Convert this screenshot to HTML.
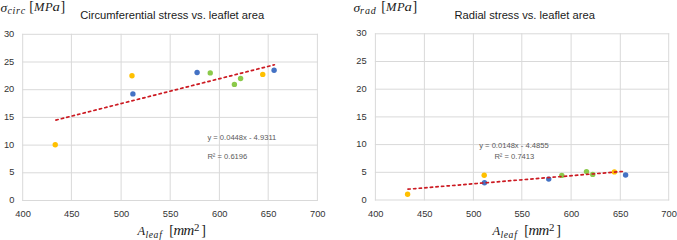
<!DOCTYPE html>
<html><head><meta charset="utf-8"><style>
html,body{margin:0;padding:0;background:#fff;width:677px;height:240px;overflow:hidden}
svg{display:block;position:absolute;left:0;top:0}
</style></head><body>
<svg width="677" height="240" viewBox="0 0 677 240">
<g stroke="#d9d9d9" stroke-width="1"><line x1="22.70" y1="33.80" x2="22.70" y2="201.00"/><line x1="71.40" y1="33.80" x2="71.40" y2="201.00"/><line x1="121.10" y1="33.80" x2="121.10" y2="201.00"/><line x1="170.20" y1="33.80" x2="170.20" y2="201.00"/><line x1="219.40" y1="33.80" x2="219.40" y2="201.00"/><line x1="268.20" y1="33.80" x2="268.20" y2="201.00"/><line x1="317.40" y1="33.80" x2="317.40" y2="201.00"/><line x1="22.20" y1="200.50" x2="317.90" y2="200.50"/><line x1="22.20" y1="172.80" x2="317.90" y2="172.80"/><line x1="22.20" y1="145.10" x2="317.90" y2="145.10"/><line x1="22.20" y1="117.40" x2="317.90" y2="117.40"/><line x1="22.20" y1="89.70" x2="317.90" y2="89.70"/><line x1="22.20" y1="62.00" x2="317.90" y2="62.00"/><line x1="22.20" y1="34.30" x2="317.90" y2="34.30"/></g><g stroke="#d9d9d9" stroke-width="1"><line x1="375.40" y1="33.30" x2="375.40" y2="200.50"/><line x1="424.40" y1="33.30" x2="424.40" y2="200.50"/><line x1="473.40" y1="33.30" x2="473.40" y2="200.50"/><line x1="521.80" y1="33.30" x2="521.80" y2="200.50"/><line x1="571.10" y1="33.30" x2="571.10" y2="200.50"/><line x1="620.30" y1="33.30" x2="620.30" y2="200.50"/><line x1="668.70" y1="33.30" x2="668.70" y2="200.50"/><line x1="374.90" y1="200.00" x2="669.20" y2="200.00"/><line x1="374.90" y1="172.30" x2="669.20" y2="172.30"/><line x1="374.90" y1="144.60" x2="669.20" y2="144.60"/><line x1="374.90" y1="116.90" x2="669.20" y2="116.90"/><line x1="374.90" y1="89.20" x2="669.20" y2="89.20"/><line x1="374.90" y1="61.50" x2="669.20" y2="61.50"/><line x1="374.90" y1="33.80" x2="669.20" y2="33.80"/></g>
<g font-family="Liberation Sans" font-size="9.3" fill="#333333"><text x="14.3" y="203.10" text-anchor="end">0</text><text x="14.3" y="175.40" text-anchor="end">5</text><text x="14.3" y="147.70" text-anchor="end">10</text><text x="14.3" y="120.00" text-anchor="end">15</text><text x="14.3" y="92.30" text-anchor="end">20</text><text x="14.3" y="64.60" text-anchor="end">25</text><text x="14.3" y="36.90" text-anchor="end">30</text><text x="23.10" y="216.8" text-anchor="middle">400</text><text x="71.80" y="216.8" text-anchor="middle">450</text><text x="121.50" y="216.8" text-anchor="middle">500</text><text x="170.60" y="216.8" text-anchor="middle">550</text><text x="219.80" y="216.8" text-anchor="middle">600</text><text x="268.60" y="216.8" text-anchor="middle">650</text><text x="317.80" y="216.8" text-anchor="middle">700</text></g><g font-family="Liberation Sans" font-size="9.3" fill="#333333"><text x="366.6" y="202.60" text-anchor="end">0</text><text x="366.6" y="174.90" text-anchor="end">5</text><text x="366.6" y="147.20" text-anchor="end">10</text><text x="366.6" y="119.50" text-anchor="end">15</text><text x="366.6" y="91.80" text-anchor="end">20</text><text x="366.6" y="64.10" text-anchor="end">25</text><text x="366.6" y="36.40" text-anchor="end">30</text><text x="375.80" y="216.8" text-anchor="middle">400</text><text x="424.80" y="216.8" text-anchor="middle">450</text><text x="473.80" y="216.8" text-anchor="middle">500</text><text x="522.20" y="216.8" text-anchor="middle">550</text><text x="571.50" y="216.8" text-anchor="middle">600</text><text x="620.70" y="216.8" text-anchor="middle">650</text><text x="669.10" y="216.8" text-anchor="middle">700</text></g>
<circle cx="55.25" cy="144.75" r="2.7" fill="#FFC000"/><circle cx="132" cy="75.75" r="2.7" fill="#FFC000"/><circle cx="132.9" cy="93.9" r="2.7" fill="#4472C4"/><circle cx="197.1" cy="72.5" r="2.7" fill="#4472C4"/><circle cx="210.25" cy="72.9" r="2.7" fill="#8BC94A"/><circle cx="234.4" cy="84.4" r="2.7" fill="#8BC94A"/><circle cx="240.6" cy="78.5" r="2.7" fill="#8BC94A"/><circle cx="262.75" cy="74.4" r="2.7" fill="#FFC000"/><circle cx="274.1" cy="70.25" r="2.7" fill="#4472C4"/><line x1="55.9" y1="120.1" x2="274.4" y2="64.8" stroke="#CC1A22" stroke-width="1.7" stroke-dasharray="2.3 3.3" stroke-linecap="round"/>
<circle cx="407.6" cy="194.2" r="2.7" fill="#FFC000"/><circle cx="484.2" cy="175.3" r="2.7" fill="#FFC000"/><circle cx="484.5" cy="182.8" r="2.7" fill="#4472C4"/><circle cx="548.75" cy="179.1" r="2.7" fill="#4472C4"/><circle cx="561.8" cy="175.4" r="2.7" fill="#8BC94A"/><circle cx="586.5" cy="171.6" r="2.7" fill="#8BC94A"/><circle cx="592.75" cy="174.4" r="2.7" fill="#8BC94A"/><circle cx="614.4" cy="171.9" r="2.7" fill="#FFC000"/><circle cx="625.6" cy="175.0" r="2.7" fill="#4472C4"/><line x1="408.0" y1="189.2" x2="624.6" y2="171.3" stroke="#CC1A22" stroke-width="1.7" stroke-dasharray="2.3 3.3" stroke-linecap="round"/>
<g font-family="Liberation Sans" font-size="11.2" fill="#1a1a1a">
<text x="80.2" y="18.9">Circumferential stress vs. leaflet area</text>
<text x="454.4" y="18.9">Radial stress vs. leaflet area</text>
</g>
<g font-family="Liberation Sans" font-size="7.6" fill="#595959">
<text x="207.4" y="139.8">y = 0.0448x - 4.9311</text>
<text x="207.4" y="159.2">R² = 0.6196</text>
<text x="479.2" y="148">y = 0.0148x - 4.4855</text>
<text x="494.4" y="158.6">R² = 0.7413</text>
</g>
<g font-family="Liberation Serif" fill="#1a1a1a"><text x="0.60" y="11.60" font-size="13.5" font-style="italic">σ</text><text x="29.30" y="11.20" font-size="14">[</text><text x="34.00" y="11.20" font-size="12.5" font-style="italic">M</text><text x="44.90" y="11.20" font-size="12.5" font-style="italic">P</text><text transform="translate(52.60,11.20) scale(1.18,1)" font-size="12.5" font-style="italic">a</text><text x="60.50" y="11.20" font-size="14">]</text><text x="7.60" y="14.40" font-size="10" font-style="italic">c</text><text x="12.50" y="14.40" font-size="10" font-style="italic">i</text><text x="15.90" y="14.40" font-size="10" font-style="italic">r</text><text x="20.70" y="14.40" font-size="10" font-style="italic">c</text><text x="353.40" y="11.60" font-size="13.5" font-style="italic">σ</text><text x="381.30" y="11.20" font-size="14">[</text><text x="386.00" y="11.20" font-size="12.5" font-style="italic">M</text><text x="396.90" y="11.20" font-size="12.5" font-style="italic">P</text><text transform="translate(404.60,11.20) scale(1.18,1)" font-size="12.5" font-style="italic">a</text><text x="412.50" y="11.20" font-size="14">]</text><text x="360.10" y="14.40" font-size="10" font-style="italic">r</text><text x="365.10" y="14.40" font-size="10" font-style="italic">a</text><text x="370.70" y="14.40" font-size="10" font-style="italic">d</text><text x="137.60" y="234.60" font-size="12.5" font-style="italic">A</text><text x="145.40" y="237.60" font-size="9.6" font-style="italic">l</text><text x="148.65" y="237.60" font-size="9.6" font-style="italic">e</text><text x="153.60" y="237.60" font-size="9.6" font-style="italic">a</text><text x="159.30" y="237.60" font-size="9.6" font-style="italic">f</text><text x="169.20" y="234.60" font-size="14">[</text><text transform="translate(173.60,234.60) scale(1.05,1)" font-size="14.2" font-style="italic">m</text><text transform="translate(183.50,234.60) scale(1.05,1)" font-size="14.2" font-style="italic">m</text><text transform="translate(194.00,231.00) scale(1.15,1)" font-size="9.5">2</text><text x="201.30" y="234.60" font-size="14">]</text><text x="492.60" y="234.60" font-size="12.5" font-style="italic">A</text><text x="500.40" y="237.60" font-size="9.6" font-style="italic">l</text><text x="503.65" y="237.60" font-size="9.6" font-style="italic">e</text><text x="508.60" y="237.60" font-size="9.6" font-style="italic">a</text><text x="514.30" y="237.60" font-size="9.6" font-style="italic">f</text><text x="524.20" y="234.60" font-size="14">[</text><text transform="translate(528.60,234.60) scale(1.05,1)" font-size="14.2" font-style="italic">m</text><text transform="translate(538.50,234.60) scale(1.05,1)" font-size="14.2" font-style="italic">m</text><text transform="translate(549.00,231.00) scale(1.15,1)" font-size="9.5">2</text><text x="556.30" y="234.60" font-size="14">]</text></g>
</svg>
</body></html>
